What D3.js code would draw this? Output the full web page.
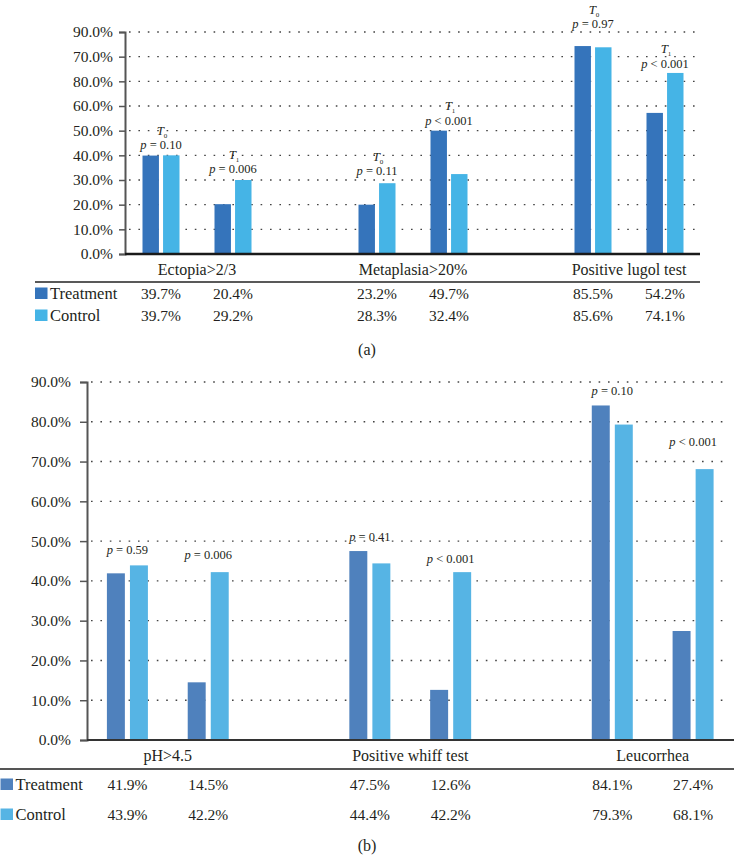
<!DOCTYPE html>
<html>
<head>
<meta charset="utf-8">
<script src="https://cdn.jsdelivr.net/npm/d3@7"></script>
<style>
  html, body { margin: 0; padding: 0; background: #fff; }
  svg text { font-family: "Liberation Serif", "DejaVu Serif", serif; fill: #231f20; }
</style>
</head>
<body>
<svg id="chart" width="734" height="856"></svg>
<script>
// ---------- DATA ----------
// Panel (a)
const catsA = ["Ectopia>2/3", "Metaplasia>20%", "Positive lugol test"];
const timesA = ["T0", "T1"];
const seriesNames = ["Treatment", "Control"];
// bar heights as drawn in the picture (%), order: cat x time
const barsATreatment = [39.9, 20.2, 20.0, 50.0, 84.3, 57.2];
const barsAControl   = [40.0, 30.0, 28.7, 32.4, 83.8, 73.4];
const tableATreatment = ["39.7%", "20.4%", "23.2%", "49.7%", "85.5%", "54.2%"];
const tableAControl   = ["39.7%", "29.2%", "28.3%", "32.4%", "85.6%", "74.1%"];
const pLabelsA = ["= 0.10", "= 0.006", "= 0.11", "< 0.001", "= 0.97", "< 0.001"];
const tickValsA = [0, 10, 20, 30, 40, 50, 60, 70, 80, 90];
const tickLabelsA = ["0.0%", "10.0%", "20.0%", "30.0%", "40.0%", "50.0%", "60.0%", "80.0%", "70.0%", "90.0%"];

// Panel (b)
const catsB = ["pH>4.5", "Positive whiff test", "Leucorrhea"];
const barsBTreatment = [41.9, 14.5, 47.5, 12.6, 84.1, 27.4];
const barsBControl   = [43.9, 42.2, 44.4, 42.2, 79.3, 68.1];
const tableBTreatment = ["41.9%", "14.5%", "47.5%", "12.6%", "84.1%", "27.4%"];
const tableBControl   = ["43.9%", "42.2%", "44.4%", "42.2%", "79.3%", "68.1%"];
const pLabelsB = ["= 0.59", "= 0.006", "= 0.41", "< 0.001", "= 0.10", "< 0.001"];
const tickValsB = [0, 10, 20, 30, 40, 50, 60, 70, 80, 90];
const tickLabelsB = ["0.0%", "10.0%", "20.0%", "30.0%", "40.0%", "50.0%", "60.0%", "70.0%", "80.0%", "90.0%"];

// ---------- DRAW ----------
const svg = d3.select("#chart");
const SERIF = "Liberation Serif, DejaVu Serif, serif";

function slotKeys(cats) {
  const keys = [];
  cats.forEach((c, i) => {
    keys.push(c + "|T0", c + "|T1");
    if (i < cats.length - 1) keys.push("gap" + i);
  });
  return keys;
}

function drawPanel(cfg) {
  const g = svg.append("g");
  const y = d3.scaleLinear().domain([0, 90]).range([cfg.y0, cfg.y90]);
  const x = d3.scaleBand().domain(slotKeys(cfg.cats)).range([cfg.xL, cfg.xR]).paddingInner(0).paddingOuter(0);
  const inner = d3.scaleBand().domain(seriesNames)
    .range([-cfg.pairW / 2, cfg.pairW / 2]).paddingInner(cfg.innerPad).paddingOuter(0);

  const rows = [];
  cfg.cats.forEach((c, ci) => {
    ["T0", "T1"].forEach((t, ti) => {
      const idx = ci * 2 + ti;
      rows.push({ key: c + "|" + t, cat: c, t, idx,
        Treatment: cfg.treat[idx], Control: cfg.ctrl[idx],
        tabT: cfg.tabT[idx], tabC: cfg.tabC[idx], p: cfg.pLabels[idx] });
    });
  });
  const cx = k => x(k) + x.bandwidth() / 2;

  // gridlines
  g.append("g").selectAll("line").data(cfg.ticks.filter(v => v > 0)).join("line")
    .attr("x1", cfg.xL + 4).attr("x2", cfg.gridR)
    .attr("y1", d => y(d)).attr("y2", d => y(d))
    .attr("stroke", "#444").attr("stroke-width", 1.4)
    .attr("stroke-dasharray", "1.6,7.8");

  // y axis
  const yAxis = d3.axisLeft(y).tickValues(cfg.ticks)
    .tickFormat((d, i) => cfg.tickLabels[i]).tickSize(cfg.tickLen).tickPadding(cfg.tickPad);
  const ya = g.append("g").attr("transform", `translate(${cfg.xL},0)`).call(yAxis)
    .attr("font-family", SERIF).attr("font-size", 15.5);
  ya.select(".domain").attr("stroke", "#555").attr("stroke-width", 2);
  ya.selectAll(".tick line").attr("stroke", "#555").attr("stroke-width", 1.5);
  ya.selectAll(".tick text").attr("font-family", SERIF).style("font-family", SERIF)
    .style("font-size", "15.5px").attr("fill", "#231f20");

  // bars
  seriesNames.forEach((s, si) => {
    g.append("g").selectAll("rect").data(rows).join("rect")
      .attr("x", d => cx(d.key) + inner(s))
      .attr("width", inner.bandwidth())
      .attr("y", d => y(d[s]))
      .attr("height", d => y(0) - y(d[s]))
      .attr("fill", cfg.colors[si]);
  });

  // x axis line
  g.append("line").attr("x1", cfg.xL).attr("x2", cfg.axisR)
    .attr("y1", y(0)).attr("y2", y(0))
    .attr("stroke", cfg.axisColor).attr("stroke-width", cfg.axisW);

  // annotations
  rows.forEach((d, i) => {
    const top = y(Math.max(d.Treatment, d.Control));
    const pb = top - cfg.lifts[i];
    const t = g.append("text").attr("x", cx(d.key)).attr("y", pb)
      .attr("text-anchor", "middle").style("font-size", "12.5px");
    t.append("tspan").attr("font-style", "italic").text("p");
    t.append("tspan").text(" " + d.p);
    if (cfg.showT) {
      const tt = g.append("text").attr("x", cx(d.key) + 1).attr("y", pb - 14.5)
        .attr("text-anchor", "middle").style("font-size", "13px");
      tt.append("tspan").attr("font-style", "italic").text("T");
      tt.append("tspan").attr("dy", 3).style("font-size", "7px").text(d.t.slice(1));
    }
  });

  // category labels
  cfg.cats.forEach(c => {
    const mid = (cx(c + "|T0") + cx(c + "|T1")) / 2;
    g.append("text").attr("x", mid).attr("y", cfg.catY).attr("text-anchor", "middle")
      .style("font-size", "16px").text(c);
  });

  // table rule
  g.append("line").attr("x1", cfg.ruleL).attr("x2", cfg.ruleR)
    .attr("y1", cfg.ruleY).attr("y2", cfg.ruleY)
    .attr("stroke", cfg.ruleColor).attr("stroke-width", cfg.ruleW);

  // table rows
  seriesNames.forEach((s, si) => {
    const by = cfg.rowY[si];
    g.append("rect").attr("x", cfg.legX).attr("y", by - 11.5).attr("width", 12.5).attr("height", 11.5)
      .attr("fill", cfg.colors[si]);
    g.append("text").attr("x", cfg.legX + 15).attr("y", by).style("font-size", "16.5px").text(s);
    g.append("g").selectAll("text").data(rows).join("text")
      .attr("x", d => cx(d.key)).attr("y", by).attr("text-anchor", "middle")
      .style("font-size", "15.5px")
      .text(d => si === 0 ? d.tabT : d.tabC);
  });

  // panel label
  g.append("text").attr("x", 367).attr("y", cfg.panelY).attr("text-anchor", "middle")
    .style("font-size", "16px").text(cfg.panel);
}

drawPanel({
  cats: catsA, treat: barsATreatment, ctrl: barsAControl,
  tabT: tableATreatment, tabC: tableAControl, pLabels: pLabelsA,
  ticks: tickValsA, tickLabels: tickLabelsA,
  y0: 254, y90: 32, xL: 125, xR: 701, gridR: 700, axisR: 700,
  pairW: 37, innerPad: 0.2,
  colors: ["#3574bb", "#45b4e6"],
  tickLen: 6, tickPad: 6, axisColor: "#1a1a1a", axisW: 2.5,
  lifts: [6, 7, 8, 6, 18, 5], showT: true,
  catY: 275, ruleY: 282, ruleL: 35, ruleR: 700, ruleColor: "#222", ruleW: 1.6,
  legX: 35, rowY: [299, 321], panel: "(a)", panelY: 355
});

drawPanel({
  cats: catsB, treat: barsBTreatment, ctrl: barsBControl,
  tabT: tableBTreatment, tabC: tableBControl, pLabels: pLabelsB,
  ticks: tickValsB, tickLabels: tickLabelsB,
  y0: 740, y90: 382, xL: 87, xR: 733.5, gridR: 728, axisR: 734,
  pairW: 41, innerPad: 0.22,
  colors: ["#4f81bd", "#56b4e4"],
  tickLen: 7, tickPad: 9, axisColor: "#333", axisW: 2,
  lifts: [11, 13, 10, 9, 10, 23], showT: false,
  catY: 761, ruleY: 769, ruleL: 0, ruleR: 734, ruleColor: "#555", ruleW: 2,
  legX: 0.5, rowY: [790, 820], panel: "(b)", panelY: 851
});
</script>
</body>
</html>
